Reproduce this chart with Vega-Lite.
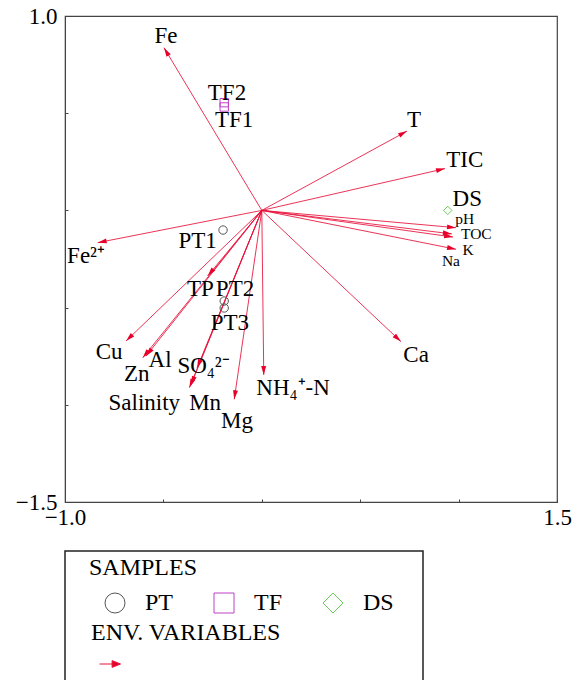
{
  "$schema": "https://vega.github.io/schema/vega-lite/v6.json",
  "padding": {"left": 14, "top": 4, "right": 5, "bottom": 0},
  "background": "white",
  "config": {"font": "Liberation Serif", "concat": {"spacing": 20}},
  "datasets": {
    "env": [
      {"name": "Fe", "x": -0.497, "y": 0.837, "lx": -0.487, "ly": 0.897},
      {"name": "Fe²⁺", "x": -0.834, "y": -0.166, "lx": -0.893, "ly": -0.235},
      {"name": "T", "x": 0.738, "y": 0.408, "lx": 0.773, "ly": 0.465},
      {"name": "TIC", "x": 0.931, "y": 0.215, "lx": 1.031, "ly": 0.259},
      {"name": "pH", "x": 0.987, "y": -0.089, "lx": 1.031, "ly": -0.045},
      {"name": "TOC", "x": 0.966, "y": -0.121, "lx": 1.09, "ly": -0.12},
      {"name": "Na", "x": 0.972, "y": -0.137, "lx": 0.961, "ly": -0.26},
      {"name": "K", "x": 0.987, "y": -0.2, "lx": 1.048, "ly": -0.202},
      {"name": "Ca", "x": 0.707, "y": -0.675, "lx": 0.784, "ly": -0.744},
      {"name": "NH₄⁺-N", "x": 0.01, "y": -0.847, "lx": 0.159, "ly": -0.916},
      {"name": "Mg", "x": -0.14, "y": -0.972, "lx": -0.126, "ly": -1.083},
      {"name": "Mn", "x": -0.36, "y": -0.898, "lx": -0.288, "ly": -0.993},
      {"name": "Salinity", "x": -0.368, "y": -0.912, "lx": -0.597, "ly": -0.993},
      {"name": "SO₄²⁻", "x": -0.329, "y": -0.811, "lx": -0.296, "ly": -0.802},
      {"name": "Zn", "x": -0.605, "y": -0.758, "lx": -0.635, "ly": -0.844},
      {"name": "Al", "x": -0.588, "y": -0.749, "lx": -0.517, "ly": -0.77},
      {"name": "Cu", "x": -0.69, "y": -0.672, "lx": -0.776, "ly": -0.728},
      {"name": "TP", "x": -0.275, "y": -0.337, "lx": -0.312, "ly": -0.404}
    ],
    "samples": [
      {"name": "PT1", "group": "PT", "x": -0.197, "y": -0.101, "lx": -0.326, "ly": -0.157},
      {"name": "PT2", "group": "PT", "x": -0.191, "y": -0.466, "lx": -0.136, "ly": -0.404},
      {"name": "PT3", "group": "PT", "x": -0.191, "y": -0.502, "lx": -0.162, "ly": -0.578},
      {"name": "TF1", "group": "TF", "x": -0.191, "y": 0.532, "lx": -0.141, "ly": 0.465},
      {"name": "TF2", "group": "TF", "x": -0.191, "y": 0.554, "lx": -0.177, "ly": 0.606},
      {"name": "DS", "group": "DS", "x": 0.945, "y": 0.0, "lx": 1.044, "ly": 0.061}
    ]
  },
  "vconcat": [
    {
      "width": 492,
      "height": 486,
      "view": {"stroke": "#444", "strokeWidth": 1.2},
      "layer": [
        {
          "mark": {"type": "rule", "stroke": "#666", "strokeDash": [2, 2], "strokeWidth": 1},
          "encoding": {"x": {"datum": 0, "type": "quantitative"}}
        },
        {
          "mark": {"type": "rule", "stroke": "#111", "strokeDash": [3, 2], "strokeWidth": 1},
          "encoding": {"y": {"datum": 0, "type": "quantitative"}}
        },
        {
          "data": {"name": "env"},
          "mark": {"type": "rule", "strokeWidth": 1, "opacity": 0.85},
          "encoding": {
            "x": {"field": "x", "type": "quantitative",
              "scale": {"domain": [-1, 1.5], "nice": false, "zero": false},
              "axis": {"values": [-1, -0.5, 0, 0.5, 1, 1.5], "format": ".1f",
                "labelExpr": "datum.value == -1 || datum.value == 1.5 ? datum.label : ''",
                "title": null, "grid": false, "tickSize": -3, "labelPadding": 7,
                "labelFontSize": 23, "labelColor": "black", "labelFont": "Liberation Serif",
                "domainColor": "#444", "tickColor": "#444", "labelFlush": false, "labelOverlap": false}},
            "y": {"field": "y", "type": "quantitative",
              "scale": {"domain": [-1.5, 1], "nice": false, "zero": false},
              "axis": {"values": [-1.5, -1, -0.5, 0, 0.5, 1], "format": ".1f",
                "labelExpr": "datum.value == -1.5 || datum.value == 1 ? datum.label : ''",
                "title": null, "grid": false, "tickSize": -3, "labelPadding": 11,
                "labelFontSize": 23, "labelColor": "black", "labelFont": "Liberation Serif",
                "domainColor": "#444", "tickColor": "#444", "labelFlush": false, "labelOverlap": false}},
            "x2": {"datum": 0},
            "y2": {"datum": 0},
            "color": {"datum": "ENV. VARIABLES", "type": "nominal",
              "scale": {"range": ["#e8103a"]},
              "legend": {"title": "ENV. VARIABLES", "orient": "none", "legendX": 26, "legendY": 605,
                "labelExpr": "''", "symbolSize": 441, "symbolOffset": 8, "titlePadding": 8,
                "titleLimit": 400,
                "symbolType": "M-1,0 L0.25,0 M0.2,-0.32 L1,0 L0.2,0.32 Z",
                "symbolStrokeWidth": 1, "symbolFillColor": "#e8002a", "symbolStrokeColor": "#e8002a",
                "symbolOpacity": 1,
                "padding": 0, "titleFontSize": 24, "titleFont": "Liberation Serif", "titleFontWeight": "normal",
                "titleColor": "black"}}
          }
        },
        {
          "data": {"name": "env"},
          "transform": [{"calculate": "(atan2(datum.x * 196.8, datum.y * 194.4) * 180 / PI + 360) % 360", "as": "ang"}],
          "mark": {"type": "point", "shape": "M0,0 L-0.55,2 L0.55,2 Z", "filled": true, "fill": "#e8002a", "size": 81, "strokeWidth": 0, "opacity": 1},
          "encoding": {
            "x": {"field": "x", "type": "quantitative"},
            "y": {"field": "y", "type": "quantitative"},
            "angle": {"field": "ang", "type": "quantitative", "scale": null}
          }
        },
        {
          "data": {"name": "env"},
          "transform": [{"filter": "indexof(['pH','TOC','K','Na'], datum.name) < 0"}],
          "mark": {"type": "text", "fontSize": 23, "font": "Liberation Serif", "color": "black", "baseline": "middle", "align": "center"},
          "encoding": {
            "x": {"field": "lx", "type": "quantitative"},
            "y": {"field": "ly", "type": "quantitative"},
            "text": {"field": "name"}
          }
        },
        {
          "data": {"name": "env"},
          "transform": [{"filter": "indexof(['pH','TOC','K','Na'], datum.name) >= 0"}],
          "mark": {"type": "text", "fontSize": 15.5, "font": "Liberation Serif", "color": "black", "baseline": "middle", "align": "center"},
          "encoding": {
            "x": {"field": "lx", "type": "quantitative"},
            "y": {"field": "ly", "type": "quantitative"},
            "text": {"field": "name"}
          }
        },
        {
          "data": {"name": "samples"},
          "mark": {"type": "point", "filled": false, "size": 70, "strokeWidth": 1, "opacity": 1},
          "encoding": {
            "x": {"field": "x", "type": "quantitative"},
            "y": {"field": "y", "type": "quantitative"},
            "shape": {"field": "group", "type": "nominal",
              "scale": {"domain": ["PT", "TF", "DS"], "range": ["circle", "square", "diamond"]},
              "legend": {"title": "SAMPLES", "orient": "none", "legendX": 24, "legendY": 540,
                "direction": "horizontal", "columns": 3, "columnPadding": 24, "symbolSize": 400,
                "symbolStrokeWidth": 1, "symbolOffset": 14, "labelOffset": 18, "titlePadding": 11,
                "titleLimit": 400,
                "padding": 0, "titleFontSize": 24, "labelFontSize": 24, "titleFont": "Liberation Serif",
                "labelFont": "Liberation Serif", "titleFontWeight": "normal", "titleColor": "black", "labelColor": "black"}},
            "stroke": {"field": "group", "type": "nominal",
              "scale": {"domain": ["PT", "TF", "DS"], "range": ["#555555", "#c040c8", "#66cc55"]},
              "legend": {"title": "SAMPLES", "orient": "none", "legendX": 24, "legendY": 540,
                "direction": "horizontal", "columns": 3, "columnPadding": 24, "symbolSize": 400,
                "symbolStrokeWidth": 1, "symbolOffset": 14, "labelOffset": 18, "titlePadding": 11,
                "titleLimit": 400,
                "padding": 0, "titleFontSize": 24, "labelFontSize": 24, "titleFont": "Liberation Serif",
                "labelFont": "Liberation Serif", "titleFontWeight": "normal", "titleColor": "black", "labelColor": "black"}}
          }
        },
        {
          "data": {"name": "samples"},
          "mark": {"type": "text", "fontSize": 23, "font": "Liberation Serif", "color": "black", "baseline": "middle", "align": "center"},
          "encoding": {
            "x": {"field": "lx", "type": "quantitative"},
            "y": {"field": "ly", "type": "quantitative"},
            "text": {"field": "name"}
          }
        }
      ]
    },
    {
      "width": 358,
      "height": 132,
      "view": {"stroke": "#222", "strokeWidth": 1.5},
      "data": {"values": [{}]},
      "mark": {"type": "point", "opacity": 0},
      "encoding": {}
    }
  ]
}
